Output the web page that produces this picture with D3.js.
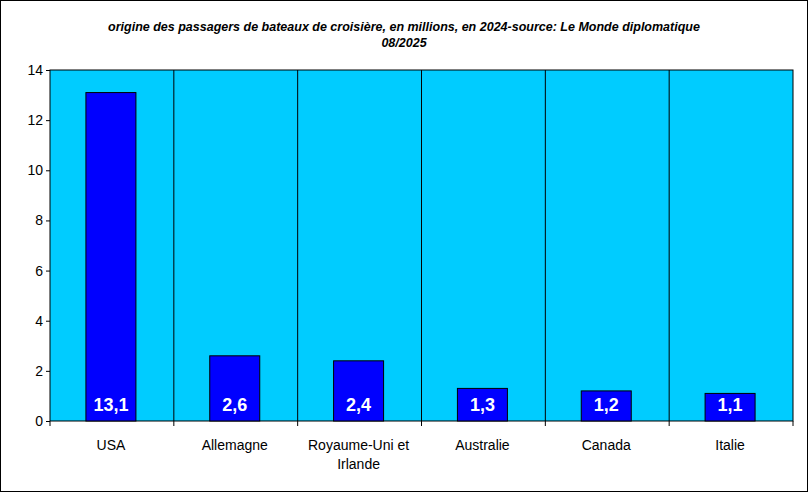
<!DOCTYPE html><html><head><meta charset="utf-8">
<script src="https://cdn.jsdelivr.net/npm/d3@7"></script>
<style>body{margin:0;background:#fff}svg{display:block;font-family:"Liberation Sans",Arial,sans-serif}</style>
</head><body><svg id="c" width="808" height="492"></svg><script>
const categories=["USA","Allemagne","Royaume-Uni et|Irlande","Australie","Canada","Italie"];
const values=[13.1,2.6,2.4,1.3,1.2,1.1];
const labels=["13,1","2,6","2,4","1,3","1,2","1,1"];
const ticks=[0,2,4,6,8,10,12,14];
const svg=d3.select("#c");
svg.append("rect").attr("x",0.5).attr("y",0.5).attr("width",807).attr("height",491).attr("fill","#fff").attr("stroke","#000");
const L=50,R=793,T=70,B=421;
const x=d3.scaleBand().domain(categories).range([L,R]);
const y=d3.scaleLinear().domain([0,14]).range([B,T]);
svg.append("rect").attr("x",L).attr("y",T).attr("width",R-L).attr("height",B-T).attr("fill","#00CCFF").attr("stroke","#000");
categories.slice(1).forEach(c=>svg.append("line").attr("x1",x(c)).attr("x2",x(c)).attr("y1",T).attr("y2",B).attr("stroke","#000"));
const ax=svg.append("g").attr("transform",`translate(${L},0)`).call(d3.axisLeft(y).tickValues(ticks).tickSize(4).tickFormat(d3.format("d")));
ax.select(".domain").remove();
ax.selectAll("line").attr("stroke","#000");
ax.selectAll("text").attr("font-size",14).attr("fill","#000").attr("font-family","Liberation Sans, Arial");
const bw=50;
categories.forEach((c,i)=>{
 const cx=x(c)+x.bandwidth()/2-1;
 svg.append("rect").attr("x",cx-bw/2).attr("y",y(values[i])).attr("width",bw).attr("height",B-y(values[i])).attr("fill","#0000FF").attr("stroke","#000");
 svg.append("text").attr("x",cx).attr("y",411).attr("text-anchor","middle").attr("fill","#fff").attr("font-weight","bold").attr("font-size",18).text(labels[i]);
 svg.append("line").attr("x1",x(c)).attr("x2",x(c)).attr("y1",B).attr("y2",B+5).attr("stroke","#000");
 c.split("|").forEach((t,j)=>svg.append("text").attr("x",cx).attr("y",450+j*19).attr("text-anchor","middle").attr("font-size",14).text(t));
});
svg.append("line").attr("x1",R).attr("x2",R).attr("y1",B).attr("y2",B+5).attr("stroke","#000");
[["origine des passagers de bateaux de croisière, en millions, en 2024-source: Le Monde diplomatique",31],["08/2025",47]].forEach(([t,yy])=>
 svg.append("text").attr("x",404).attr("y",yy).attr("text-anchor","middle").attr("font-size",12.5).attr("font-weight","bold").attr("font-style","italic").text(t));
</script></body></html>
